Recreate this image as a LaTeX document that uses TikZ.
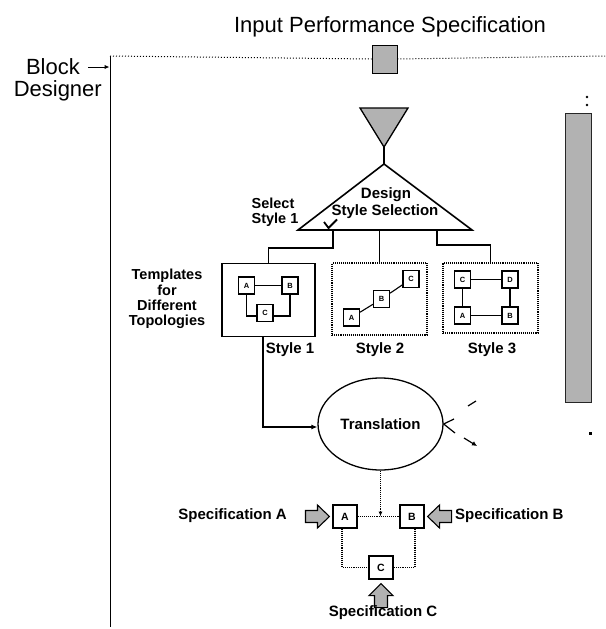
\documentclass[tikz,border=0pt]{standalone}
\usepackage{fontspec}
\setmainfont{Liberation Sans}
\usetikzlibrary{arrows.meta,shapes.geometric,calc}
\begin{document}
\begin{tikzpicture}[x=1pt,y=-1pt,
  lbl/.style={font=\fontsize{15}{15.3}\selectfont\bfseries, inner sep=0pt},
  big/.style={font=\fontsize{22}{24}\selectfont, inner sep=0pt},
  sbox/.style={draw, line width=1.1pt, fill=white, minimum width=16pt, minimum height=17pt, inner sep=0pt, font=\fontsize{7.5}{8}\selectfont\bfseries},
  mbox/.style={draw, line width=1.1pt, fill=white, minimum width=24pt, minimum height=23pt, inner sep=0pt, font=\fontsize{10.5}{11}\selectfont\bfseries},
  shade/.style={fill=black!30, draw=black, line width=0.9pt},
  ln/.style={line width=1.1pt},
  dln/.style={line width=1.1pt, densely dotted},
  tbox/.style={line width=1.2pt, minimum width=95pt, minimum height=72pt, inner sep=0pt},
]
\useasboundingbox (0,0) rectangle (605,629);

% frame
\coordinate (tl) at (110,56);
\coordinate (tr) at (605,56);
\coordinate (bl) at (110,627);
\node[shade, minimum width=25pt, minimum height=28pt, inner sep=0pt] (inrect) at (384.5,59) {};
\draw[dotted, line width=1pt] (tl) -- (inrect.west);
\draw[dotted, line width=1pt] (inrect.east) -- (tr);
\draw[line width=0.8pt] (tl) -- (bl);

\node[big] (title) at (390,27) {Input Performance Specification};
\node[big, anchor=east] (block) at (80,67) {Block};
\node[big, anchor=east] (designer) at (102,91) {Designer};
\coordinate (barrowend) at (109.5,67);
\draw[line width=1pt, -{Latex[length=5pt,width=4.5pt]}] ([xshift=8pt]block.east) -- (barrowend);

% inverted triangle and design style selection
\coordinate (itl) at (360,108);
\coordinate (itr) at (408,108);
\coordinate (itip) at (384,147);
\draw[shade, line width=1.3pt] (itl) -- (itr) -- (itip) -- cycle;
\coordinate (apex) at (384,164);
\coordinate (tL) at (298,230);
\coordinate (tR) at (472,230);
\draw[line width=1.6pt] (itip) -- (apex);
\draw[line width=1.6pt, line join=miter] (apex) -- (tR) -- (tL) -- cycle;
\node[lbl] (design) at (386,195) {Design};
\node[lbl] (stylesel) at (385,212) {Style Selection};
\node[lbl, align=left, font=\fontsize{14.5}{15}\selectfont\bfseries] (select) at (275,212.5) {Select\\Style 1};
\draw[line width=1.8pt] (324,222) -- (328.5,228) -- (337,219.5);

% template boxes
\node[draw, tbox, minimum width=93pt, minimum height=73pt] (box1) at (268.5,300) {};
\node[draw, tbox, dln] (box2) at (379.5,299) {};
\node[draw, tbox, dln, minimum height=70pt] (box3) at (490.5,298) {};
\coordinate (b1) at (333,230);
\coordinate (b2) at (379.5,230);
\coordinate (b3) at (437,230);
\draw[ln] (b1) -- ++(0,18) -| (box1.north);
\draw[ln] (b2) -- (box2.north);
\draw[ln] (b3) -- ++(0,15) -| (box3.north);

\node[lbl, align=center, font=\fontsize{14.5}{15.3}\selectfont\bfseries] (templ) at (167,299) {Templates\\for\\Different\\Topologies};

% box1 contents
\node[sbox] (A1) at (246.5,285.5) {A};
\node[sbox] (B1) at (290,285.5) {B};
\node[sbox] (C1) at (265,313) {C};
\draw[ln] (A1) -- (B1);
\draw[ln] (A1.south) |- ([yshift=-3pt]C1.west);
\draw[ln] (B1.south) |- ([yshift=-3pt]C1.east);

% box2 contents
\node[sbox] (A2) at (351.5,317.5) {A};
\node[sbox] (B2) at (381.5,299) {B};
\node[sbox] (C2) at (411,279) {C};
\draw[ln] (A2) -- (B2);
\draw[ln] (B2) -- (C2);

% box3 contents
\node[sbox] (C3) at (462.5,279.5) {C};
\node[sbox] (D3) at (510,279.5) {D};
\node[sbox] (A3) at (462.5,315.5) {A};
\node[sbox] (B3) at (510,315.5) {B};
\draw[ln] (C3) -- (D3);
\draw[ln] (C3) -- (A3);
\draw[ln] (D3) -- (B3);
\draw[ln] (A3) -- (B3);

\node[lbl] (s1) at (290,350) {Style 1};
\node[lbl] (s2) at (380,350) {Style 2};
\node[lbl] (s3) at (492,350) {Style 3};

% translation
\node[draw, ellipse, line width=1.3pt, minimum width=125pt, minimum height=92pt, inner sep=0pt, font=\fontsize{15}{16}\selectfont\bfseries] (trans) at (380.5,424) {Translation};
\draw[ln, -{Latex[length=6pt,width=5pt]}] ([xshift=-5.5pt]box1.south) |- ([yshift=-3pt]trans.west);

% fragments at right of ellipse
\draw[line width=1.2pt] (454,419) -- (trans.east) -- (455,433);
\draw[line width=1.2pt] (468,406) -- (476,401);
\draw[line width=1.2pt, -{Latex[length=5pt,width=5pt]}] (464,438) -- (477,446);

% right shaded bar and dots
\draw[fill=black!30, draw=black!85, line width=0.8pt] (565,113) rectangle (591,402);
\fill (587,97) circle (1.3pt);
\fill (587,105) circle (1.3pt);
\fill (588.5,431.5) rectangle (591.5,434.5);

% bottom network
\node[mbox] (A) at (345,516.5) {A};
\node[mbox] (B) at (412,516.5) {B};
\node[mbox] (C) at (381,567.5) {C};
\coordinate (abmid) at (380.5,516.5);
\draw[dln] (A) -- (B);
\draw[dln, -{Latex[length=5pt,width=4pt]}] (trans.south) -- (abmid);
\draw[dln] ([xshift=-3pt]A.south) |- (C.west);
\draw[dln] ([xshift=3pt]B.south) |- (C.east);

% specification arrows
\draw[shade, line width=1.1pt] ([xshift=-3pt]A.west) -- ++(-12,-11.5) -- ++(0,5.5) -- ++(-12,0) -- ++(0,12) -- ++(12,0) -- ++(0,5.5) -- cycle;
\draw[shade, line width=1.1pt] ([xshift=3pt]B.east) -- ++(12,-11.5) -- ++(0,5.5) -- ++(12,0) -- ++(0,12) -- ++(-12,0) -- ++(0,5.5) -- cycle;
\draw[shade, line width=1.1pt] ([yshift=-4pt]C.south) -- ++(-12,12) -- ++(5.5,0) -- ++(0,12) -- ++(13,0) -- ++(0,-12) -- ++(5.5,0) -- cycle;

\node[lbl, anchor=east] (specA) at (287,516) {Specification A};
\node[lbl, anchor=west] (specB) at (455,516) {Specification B};
\node[lbl] (specC) at (383,613) {Specification C};
\end{tikzpicture}
\end{document}
